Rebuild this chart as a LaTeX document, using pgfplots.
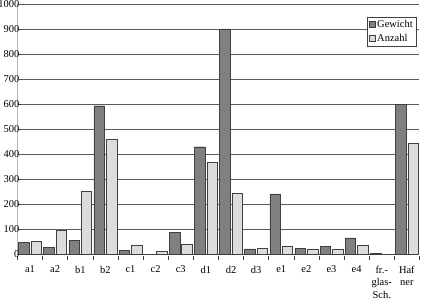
\documentclass[border=0pt]{standalone}
\usepackage{pgfplots}
\pgfplotsset{compat=1.18}
\usepackage{fontspec}
\setmainfont{Liberation Serif}
\definecolor{darkbar}{RGB}{128,128,128}
\definecolor{lightbar}{RGB}{220,220,220}
\definecolor{gridc}{RGB}{90,90,90}
\begin{document}
\begin{tikzpicture}
\begin{axis}[
  at={(0,0)}, anchor=origin,
  scale only axis, width=402bp, height=250bp,
  xmin=-0.5, xmax=15.5, ymin=0, ymax=1000,
  ybar, bar width=10.5bp,
  axis x line*=bottom, axis y line*=left,
  y axis line style={draw=gray!55, line width=1.5pt},
  x axis line style={draw=black!75, line width=0.6pt},
  ytick={0,100,...,1000},
  ymajorgrids, major grid style={draw=gridc, line width=0.5pt},
  extra y ticks={400,700,1000}, extra y tick labels={},
  extra y tick style={grid style={draw=gray!55, line width=1.5pt}, major tick length=0pt},
  ytick style={draw=black!75, line width=0.5pt},
  major tick length=4bp,
  xtick={-0.5,0.5,...,15.5},
  xticklabels={},
  x tick style={draw=black!75, line width=0.5pt, yshift=-2bp},
  extra x ticks={0,1,...,15},
  extra x tick labels={a1,a2,b1,b2,c1,c2,c3,d1,d2,d3,e1,e2,e3,e4,{fr.-\\glas-\\Sch.},{Haf\\ner}},
  extra x tick style={major tick length=0pt, grid=none, tick label style={yshift=-8.5bp}},
  x tick label style={align=center, font=\fontsize{10.5}{12.5}\selectfont, text depth=0pt},
  y tick label style={font=\fontsize{10.5}{11}\selectfont, xshift=5.5bp},
  /pgf/number format/assume math mode=true,
  /pgf/number format/1000 sep={},
  legend style={at={(0.9925,0.948)}, anchor=north east, draw=black!75, line width=0.5pt,
    font=\fontsize{10.5}{11}\selectfont, inner sep=1.5pt, row sep=1pt, fill=white},
  legend image code/.code={\draw[#1, line width=0.5pt] (0bp,-2.5bp) rectangle (6bp,3.5bp);},
  legend cell align=left,
]
\addplot[fill=darkbar, draw=black!75, line width=0.5pt] coordinates {
(0,48) (1,27) (2,55) (3,593) (4,16) (5,0) (6,87) (7,429) (8,900) (9,21) (10,241) (11,24) (12,32) (13,65) (14,4) (15,598)};
\addplot[fill=lightbar, draw=black!75, line width=0.5pt] coordinates {
(0,51) (1,97) (2,252) (3,458) (4,36) (5,12) (6,39) (7,366) (8,244) (9,24) (10,32) (11,21) (12,19) (13,36) (14,0) (15,444)};
\legend{Gewicht,Anzahl}
\end{axis}
\pgfresetboundingbox
\path (-30bp,-46bp) rectangle (402bp,254bp);
\end{tikzpicture}
\end{document}
